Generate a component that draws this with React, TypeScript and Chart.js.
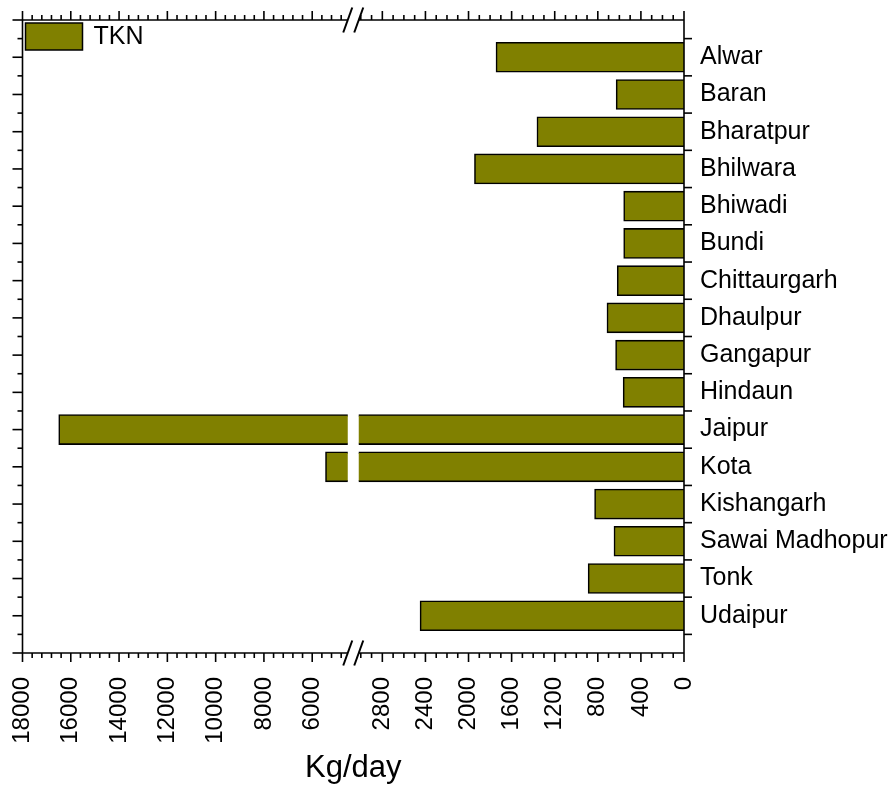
import { useEffect, useRef } from 'react';
import { Chart, registerables } from 'chart.js';

Chart.register(...registerables);

// ---- data ----
const cities = [
  'Alwar', 'Baran', 'Bharatpur', 'Bhilwara', 'Bhiwadi', 'Bundi', 'Chittaurgarh',
  'Dhaulpur', 'Gangapur', 'Hindaun', 'Jaipur', 'Kota', 'Kishangarh',
  'Sawai Madhopur', 'Tonk', 'Udaipur',
];
const tkn = [1745, 630, 1365, 1945, 560, 560, 620, 715, 635, 565, 16500, 5450, 830, 650, 890, 2450];
const seriesLabel = 'TKN';
const leftTicks = [18000, 16000, 14000, 12000, 10000, 8000, 6000];
const rightTicks = [2800, 2400, 2000, 1600, 1200, 800, 400, 0];
const leftRange = [4300, 18000];
const rightRange = [0, 3070];
const yRange = [-1, 16];
const axisTitle = 'Kg/day';

// ---- style ----
const FONT = '"Liberation Sans", Arial, Helvetica, sans-serif';
const OLIVE = '#808000';
const GAP = 11;
const LEFT_MINOR = 400, LEFT_MAJOR = 2000;
const RIGHT_MINOR = 100, RIGHT_MAJOR = 400;

const decor = {
  id: 'decor',
  beforeDatasetDraw(chart: any, args: any) {
    const meta = args.meta;
    const xs = chart.scales[meta.xAxisID];
    const { top, bottom } = chart.chartArea;
    const ctx = chart.ctx;
    const isLeft = meta.xAxisID === 'xL';
    const l = isLeft ? xs.left : xs.left + GAP / 2;
    const r = isLeft ? xs.right - GAP / 2 : xs.right;
    ctx.save();
    ctx.beginPath();
    ctx.rect(l, top - 2, r - l, bottom - top + 4);
    ctx.clip();
  },
  afterDatasetDraw(chart: any) {
    chart.ctx.restore();
  },
  afterDraw(chart: any) {
    const ctx = chart.ctx as CanvasRenderingContext2D;
    const { left, right, top, bottom } = chart.chartArea;
    const xL = chart.scales.xL, xR = chart.scales.xR, ys = chart.scales.y;
    const b = xL.right;
    const gL = b - GAP / 2, gR = b + GAP / 2;
    const line = (x1: number, y1: number, x2: number, y2: number) => {
      ctx.beginPath(); ctx.moveTo(x1, y1); ctx.lineTo(x2, y2); ctx.stroke();
    };
    ctx.save();
    ctx.strokeStyle = '#000';
    ctx.lineWidth = 1.6;
    ctx.lineCap = 'butt';
    // frame
    for (const yy of [top, bottom]) {
      line(left, yy, gL, yy);
      line(gR, yy, right, yy);
    }
    line(left, top, left, bottom);
    line(right, top, right, bottom);

    // x ticks (top & bottom)
    const xTicks = (scale: any, minor: number, major: number, lo: number, hi: number) => {
      const start = Math.ceil(Math.min(scale.min, scale.max) / minor) * minor;
      for (let v = start; v <= Math.max(scale.min, scale.max) + 1e-6; v += minor) {
        const px = scale.getPixelForValue(v);
        if (px < lo - 0.5 || px > hi + 0.5) continue;
        const len = Math.abs(v % major) < 1e-6 ? 9 : 5;
        line(px, top, px, top - len);
        line(px, bottom, px, bottom + len);
      }
    };
    xTicks(xL, LEFT_MINOR, LEFT_MAJOR, left, gL);
    xTicks(xR, RIGHT_MINOR, RIGHT_MAJOR, gR, right);

    // y ticks
    for (let i = yRange[0]; i <= yRange[1]; i++) {
      const py = ys.getPixelForValue(i);
      line(left, py, left - 10, py);
      if (i + 0.5 <= yRange[1]) {
        const pb = ys.getPixelForValue(i + 0.5);
        line(left, pb, left - 5, pb);
        line(right, pb, right + 8, pb);
      }
    }

    // break marks
    ctx.lineWidth = 2;
    for (const yy of [top, bottom]) {
      for (const cx of [gL, gR]) {
        line(cx - 4.5, yy + 12.5, cx + 4.5, yy - 12.5);
      }
    }

    // legend
    ctx.lineWidth = 1.5;
    ctx.fillStyle = OLIVE;
    ctx.fillRect(left + 3, top + 3, 57, 27);
    ctx.strokeRect(left + 3, top + 3, 57, 27);
    ctx.fillStyle = '#000';
    ctx.font = `25px ${FONT}`;
    ctx.textBaseline = 'middle';
    ctx.textAlign = 'left';
    ctx.fillText(seriesLabel, left + 71, top + 17);

    // axis title
    ctx.font = `31px ${FONT}`;
    ctx.textAlign = 'center';
    ctx.textBaseline = 'alphabetic';
    ctx.fillText(axisTitle, (left + right) / 2, 777);
    ctx.restore();
  },
};

export default function App() {
  const ref = useRef<HTMLCanvasElement | null>(null);
  useEffect(() => {
    if (!ref.current) return;
    const points = tkn.map((v, i) => ({ x: v, y: i }));
    const xScale = (range: number[], ticks: number[]) => ({
      type: 'linear',
      position: 'bottom',
      stack: 'x',
      stackWeight: 1,
      reverse: true,
      offset: false,
      min: range[0],
      max: range[1],
      grid: { display: false, drawTicks: false },
      border: { display: false },
      afterBuildTicks: (s: any) => { s.ticks = ticks.map((v) => ({ value: v })); },
      afterFit: (s: any) => { s.height = 136; s.paddingLeft = 0; s.paddingRight = 0; },
      ticks: {
        autoSkip: false,
        minRotation: 90,
        maxRotation: 90,
        padding: 24,
        color: '#000',
        font: { size: 24, family: FONT },
        callback: (v: any) => String(v),
      },
    });
    const barStyle = {
      backgroundColor: OLIVE,
      borderColor: '#000',
      borderWidth: 1.6,
      barThickness: 30,
      grouped: false,
    };
    const chart = new Chart(ref.current, {
      type: 'bar',
      data: {
        datasets: [
          { label: seriesLabel, data: points, xAxisID: 'xL', yAxisID: 'y', ...barStyle } as any,
          { label: seriesLabel, data: points, xAxisID: 'xR', yAxisID: 'y', ...barStyle } as any,
        ],
      },
      options: {
        indexAxis: 'y',
        animation: false,
        responsive: false,
        layout: { padding: { left: 22.5, top: 20, right: 0, bottom: 0 } },
        plugins: { legend: { display: false }, tooltip: { enabled: false } },
        scales: {
          xL: xScale(leftRange, leftTicks) as any,
          xR: xScale(rightRange, rightTicks) as any,
          y: {
            type: 'linear',
            position: 'right',
            reverse: true,
            offset: false,
            min: yRange[0],
            max: yRange[1],
            grid: { display: false, drawTicks: false, offset: false },
            border: { display: false },
            afterBuildTicks: (s: any) => { s.ticks = cities.map((_, i) => ({ value: i })); },
            afterFit: (s: any) => { s.width = 212; s.paddingTop = 0; s.paddingBottom = 0; },
            ticks: {
              autoSkip: false,
              padding: 16,
              color: '#000',
              font: { size: 25, family: FONT },
              callback: (v: any) => cities[v],
            },
          } as any,
        },
      },
      plugins: [decor],
    });
    return () => chart.destroy();
  }, []);
  return (
    <div style={{ position: 'fixed', left: 0, top: 0, width: 896, height: 789, background: '#fff' }}>
      <canvas ref={ref} width={896} height={789} style={{ display: 'block' }} />
    </div>
  );
}
